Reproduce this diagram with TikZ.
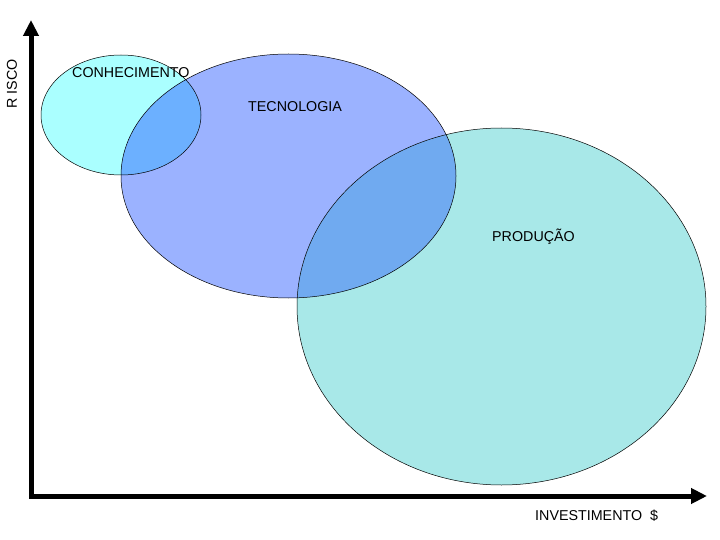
\documentclass[tikz,border=0pt]{standalone}
\usepackage{fontspec}
\setmainfont{Liberation Sans}
\usetikzlibrary{arrows.meta}
\definecolor{conhC}{HTML}{AAFFFF}
\definecolor{tecnC}{HTML}{9BB2FF}
\definecolor{prodC}{HTML}{A8E8E8}
\definecolor{ovA}{HTML}{6CB0FF}
\definecolor{ovB}{HTML}{70AAF0}
\begin{document}
\begin{tikzpicture}[x=1pt,y=-1pt,
  lbl/.style={font=\fontsize{14.3}{16}\selectfont, inner sep=0pt, anchor=west},
  outline/.style={draw=black, line width=0.5pt},
  axis/.style={line width=5pt, line join=miter, {Triangle[length=16pt,width=15pt]}-{Triangle[length=16pt,width=15pt]}}]
\useasboundingbox (0,0) rectangle (720,540);
\def\conhE{(121,115) ellipse [x radius=80, y radius=60]}
\def\tecnE{(288.5,176) ellipse [x radius=167.5, y radius=122]}
\def\prodE{(501.5,306.5) ellipse [x radius=204.5, y radius=178.5]}
\fill[conhC] \conhE;
\fill[tecnC] \tecnE;
\fill[prodC] \prodE;
\begin{scope} \clip \conhE; \fill[ovA] \tecnE; \end{scope}
\begin{scope} \clip \tecnE; \fill[ovB] \prodE; \end{scope}
\draw[outline] \conhE;
\draw[outline] \tecnE;
\draw[outline] \prodE;
\node[lbl] (conh) at (72,73) {CONHECIMENTO};
\node[lbl] (tecn) at (248,107) {TECNOLOGIA};
\node[lbl] (prod) at (492,237) {PRODUÇÃO};
\coordinate (ytop) at (31,20);
\coordinate (orig) at (31,496);
\coordinate (xend) at (707,496);
\draw[axis] (ytop) -- (orig) -- (xend);
\node[lbl] (inv) at (535,516) {INVESTIMENTO \ \$};
\node[lbl, anchor=center, rotate=90] (risco) at (12,84) {R ISCO};
\end{tikzpicture}
\end{document}
